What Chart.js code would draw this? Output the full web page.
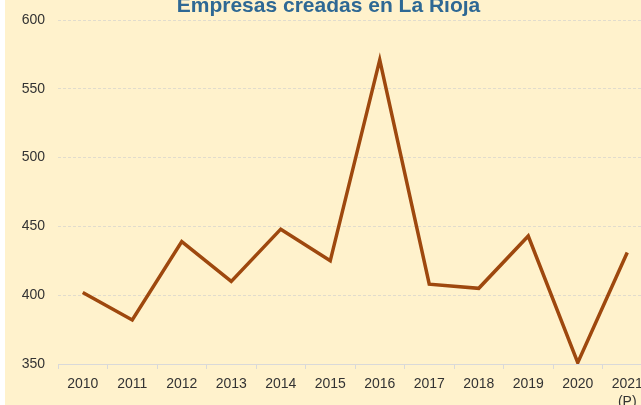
<!DOCTYPE html>
<html>
<head>
<meta charset="utf-8">
<script src="https://cdn.jsdelivr.net/npm/chart.js@4"></script>
<style>
  html, body { margin: 0; padding: 0; background: #fff; overflow: hidden; width: 641px; height: 405px; }
  #wrap { position: absolute; left: 5px; top: -14px; width: 653px; height: 420px; background: #FFF2CC; }
</style>
</head>
<body>
<div id="wrap"><canvas id="chart"></canvas></div>
<script>
  // años (2021 provisional)
  const years = ['2010', '2011', '2012', '2013', '2014', '2015', '2016', '2017', '2018', '2019', '2020', ['2021', '(P)']];
  // empresas creadas
  const empresas = [402, 382, 439, 410, 448, 425, 571, 408, 405, 443, 351, 431];
  const yTicks = [350, 400, 450, 500, 550, 600];

  const ctx = document.getElementById('chart').getContext('2d');
  new Chart(ctx, {
    type: 'line',
    data: {
      labels: years,
      datasets: [{
        label: 'Empresas creadas',
        data: empresas,
        borderColor: '#9E480E',
        borderWidth: 3.5,
        pointRadius: 0,
        tension: 0,
        fill: false
      }]
    },
    options: {
      responsive: true,
      maintainAspectRatio: false,
      animation: false,
      layout: { padding: { left: 0, right: 6, top: 0, bottom: 0 } },
      plugins: {
        legend: { display: false },
        tooltip: { enabled: false },
        title: {
          display: true,
          text: 'Empresas creadas en La Rioja',
          color: '#2E6894',
          font: { family: 'Liberation Sans, Arial', size: 21, weight: 'bold', lineHeight: 1.2 },
          padding: { top: 7.5, bottom: 1.3 }
        }
      },
      scales: {
        x: {
          offset: true,
          grid: { drawOnChartArea: false, drawTicks: true, tickLength: 5, color: '#D9D9D9', offset: true },
          border: { display: true, color: '#D9D9D9', width: 1 },
          ticks: {
            color: '#333333',
            padding: 6,
            maxRotation: 0,
            autoSkip: false,
            font: { family: 'Liberation Sans, Arial', size: 14, lineHeight: 1.3 }
          },
          afterFit: (s) => { s.height = 42; }
        },
        y: {
          min: 350,
          max: 600,
          afterBuildTicks: (s) => { s.ticks = yTicks.map(v => ({ value: v })); },
          grid: { drawTicks: false, color: 'rgba(205,205,205,0.6)', lineWidth: 1 },
          border: { display: false, dash: [3, 2] },
          ticks: {
            color: '#333333',
            padding: 13,
            font: { family: 'Liberation Sans, Arial', size: 14 }
          },
          afterFit: (s) => { s.width = 53; }
        }
      }
    }
  });
</script>
</body>
</html>
